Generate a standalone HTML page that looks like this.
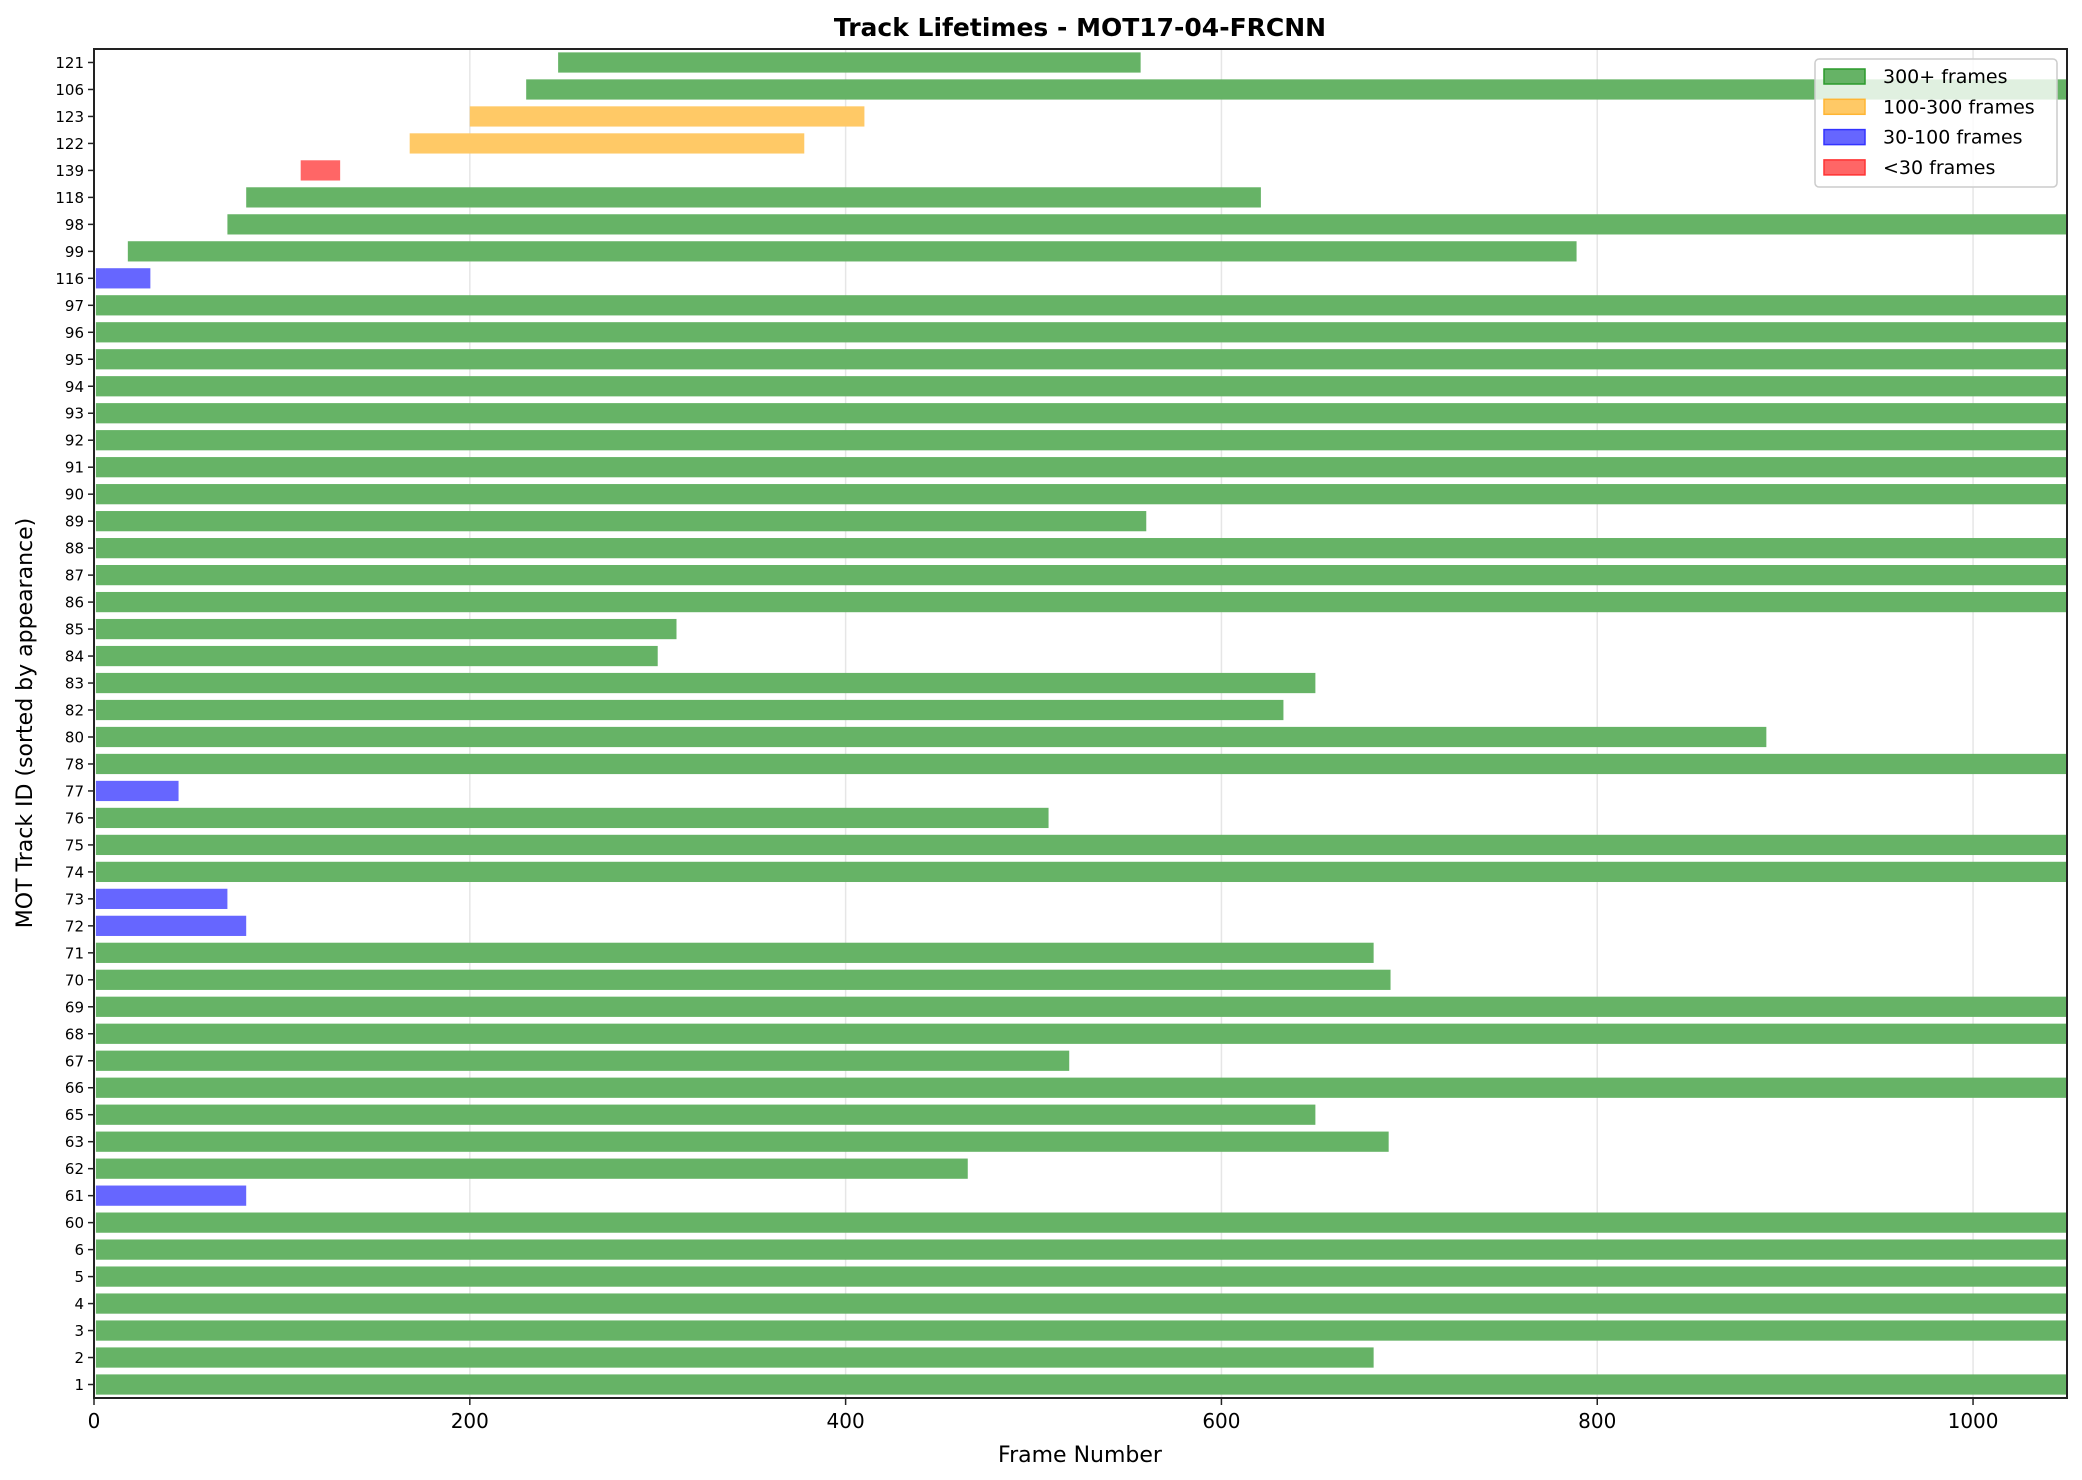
<!DOCTYPE html>
<html><head><meta charset="utf-8"><style>
body{margin:0;background:#fff}
svg{display:block;font-family:"DejaVu Sans","Liberation Sans",sans-serif}
</style></head><body>
<svg id="chart" width="2082" height="1480" xmlns="http://www.w3.org/2000/svg">
<rect width="2082" height="1480" fill="#fff"/>
<text x="1080" y="36" text-anchor="middle" font-size="25" font-weight="bold">Track Lifetimes - MOT17-04-FRCNN</text>
<text x="1080" y="1462" text-anchor="middle" font-size="22">Frame Number</text>
<text transform="translate(32,723) rotate(-90)" text-anchor="middle" font-size="22">MOT Track ID (sorted by appearance)</text>
<g id="grid"></g><g id="bars"></g><g id="ticks"></g>
<rect x="94" y="49" width="1973" height="1349" fill="none" stroke="#222" stroke-width="2"/>
<g id="legend"></g>
</svg>
<script>
const trackIds=["121","106","123","122","139","118","98","99","116","97","96","95","94","93","92","91","90","89","88","87","86","85","84","83","82","80","78","77","76","75","74","73","72","71","70","69","68","67","66","65","63","62","61","60","6","5","4","3","2","1"];
const startFrames=[247,230,200,168,110,81,71,18,1,1,1,1,1,1,1,1,1,1,1,1,1,1,1,1,1,1,1,1,1,1,1,1,1,1,1,1,1,1,1,1,1,1,1,1,1,1,1,1,1,1];
const endFrames=[557,1050,410,378,131,621,1050,789,30,1050,1050,1050,1050,1050,1050,1050,1050,560,1050,1050,1050,310,300,650,633,890,1050,45,508,1050,1050,71,81,681,690,1050,1050,519,1050,650,689,465,81,1050,1050,1050,1050,1050,681,1050];
const categories=["g","g","o","o","r","g","g","g","b","g","g","g","g","g","g","g","g","g","g","g","g","g","g","g","g","g","g","b","g","g","g","b","b","g","g","g","g","g","g","g","g","g","b","g","g","g","g","g","g","g"];
const xTicks=[0,200,400,600,800,1000];
const legendLabels=["300+ frames","100-300 frames","30-100 frames","<30 frames"];
const NS="http://www.w3.org/2000/svg";
const L=94,R=2067,T=49,B=1398,XMAX=1050,N=trackIds.length;
const xs=v=>L+v/XMAX*(R-L);
const rowH=(B-T)/N;
const yc=i=>T+(i+0.5)*rowH;
function mk(tag,attrs,parent){const e=document.createElementNS(NS,tag);for(const k in attrs)e.setAttribute(k,attrs[k]);parent.appendChild(e);return e;}
const grid=document.getElementById('grid'),bars=document.getElementById('bars'),ticks=document.getElementById('ticks'),leg=document.getElementById('legend');
const fills={g:"#66b366",o:"#ffc966",b:"#6666ff",r:"#ff6666"};
const edges={g:"#2a9a2a",o:"#ffb533",b:"#3333ff",r:"#ff3333"};
xTicks.forEach(v=>{
  const gl=mk('line',{x1:xs(v),x2:xs(v),y1:T,y2:B,stroke:"#e6e6e6","stroke-width":1.5},grid);
  
  
  const tk=mk('line',{x1:xs(v),x2:xs(v),y1:B,y2:B+7,stroke:"#222","stroke-width":1.5},ticks);
  
  
  const t=mk('text',{x:xs(v),y:B+30,"text-anchor":"middle","font-size":20},ticks);
  t.textContent=v;
  
  
});
trackIds.forEach((id,i)=>{
  const s=startFrames[i],e=endFrames[i],c=categories[i];
  const r=mk('rect',{x:xs(s),y:yc(i)-rowH*0.375,width:xs(e)-xs(s),height:rowH*0.75,fill:fills[c]},bars);
  
  
  const tk=mk('line',{x1:L-6,x2:L,y1:yc(i),y2:yc(i),stroke:"#222","stroke-width":1.5},ticks);
  
  
  const t=mk('text',{x:L-10,y:yc(i)+5.5,"text-anchor":"end","font-size":15},ticks);
  t.textContent=id;
  
  
});
mk('rect',{x:1815,y:59,width:242,height:128,rx:4,fill:"rgba(255,255,255,0.8)",stroke:"#ccc","stroke-width":1.5},leg);
['g','o','b','r'].forEach((c,i)=>{
  const y=69+i*30.3;
  const p=mk('rect',{x:1824,y:y,width:41,height:15,fill:fills[c],stroke:edges[c],"stroke-width":1.5},leg);
  
  
  const t=mk('text',{x:1883,y:y+14,"font-size":19},leg);
  t.textContent=legendLabels[i];
  
  
});
</script>
</body></html>
